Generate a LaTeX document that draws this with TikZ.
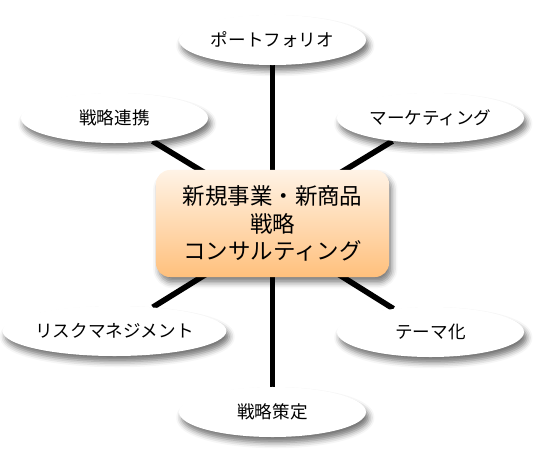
\documentclass[tikz,border=0pt]{standalone}
\usepackage{fontspec}
\setmainfont{Noto Sans CJK JP}
\usetikzlibrary{positioning,shapes.geometric,shadows.blur,backgrounds}
\definecolor{naranja}{RGB}{255,192,124}
\definecolor{crema}{RGB}{255,243,230}

\begin{document}
\begin{tikzpicture}[x=0.025cm, y=-0.025cm,
  globo/.style={ellipse, fill=white, minimum width=4.675cm,
                minimum height=1.25cm, inner sep=0pt,
                font=\fontsize{12.5}{15}\selectfont,
                blur shadow={shadow xshift=2pt, shadow yshift=-4pt,
                             shadow blur radius=4pt, shadow opacity=55}},
  nucleo/.style={rectangle, rounded corners=0.35cm, top color=crema,
                 bottom color=naranja, minimum width=5.825cm,
                 minimum height=2.675cm, align=center,
                 font=\fontsize{16}{19.5}\selectfont,
                 blur shadow={shadow xshift=2pt, shadow yshift=-4pt,
                              shadow blur radius=4pt, shadow opacity=50}},
  enlace/.style={line width=4pt, black}]
  \useasboundingbox (0,0) rectangle (546,467);
  % Centro
  \node[nucleo] (nucleo) at (272.5,223.5)
       {新規事業・新商品\\戦略\\コンサルティング};
  \coordinate (arriba) at (272.5,214);
  \coordinate (abajo) at (272.5,233);
  % Globos
  \node[globo] (cartera) at (272.5,40) {ポートフォリオ};
  \node[globo] (alianza) at (114.5,118) {戦略連携};
  \node[globo] (mercado) at (430.5,118) {マーケティング};
  \node[globo] (riesgo) at (114.5,331) {リスクマネジメント};
  \node[globo] (tema) at (430.5,332) {テーマ化};
  \node[globo] (plan) at (272.5,412) {戦略策定};
  % Enlaces
  \begin{scope}[on background layer]
    \draw[enlace] (cartera) -- (plan);
    \draw[enlace] (alianza) -- (arriba);
    \draw[enlace] (mercado) -- (arriba);
    \draw[enlace] (riesgo) -- (abajo);
    \draw[enlace] (tema) -- (abajo);
  \end{scope}
\end{tikzpicture}
\end{document}
